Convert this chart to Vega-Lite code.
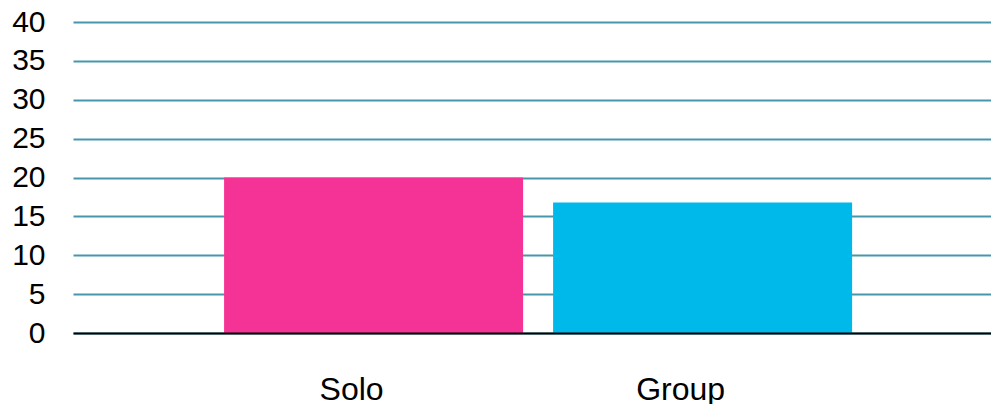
{
  "$schema": "https://vega.github.io/schema/vega-lite/v6.json",
  "autosize": {"type": "none"},
  "padding": {"left": 73, "top": 22, "right": 0, "bottom": 71},
  "width": 918,
  "height": 311,
  "background": "white",
  "config": {"view": {"stroke": null}, "font": "Liberation Sans"},
  "data": {"values": [
    {"category": "Solo", "value": 20},
    {"category": "Group", "value": 16.8}
  ]},
  "mark": {"type": "bar"},
  "encoding": {
    "x": {
      "field": "category", "type": "nominal", "sort": null,
      "scale": {"paddingInner": 0.0912, "paddingOuter": 0.4407, "align": 0.521},
      "axis": {
        "title": null, "labelAngle": 0, "ticks": false, "domainColor": "#000000", "domainWidth": 2,
        "labelFontSize": 32, "labelColor": "#000000", "labelPadding": 41, "labelOffset": -22, "zindex": 1
      }
    },
    "y": {
      "field": "value", "type": "quantitative",
      "scale": {"domain": [0, 40], "nice": false},
      "axis": {
        "title": null, "values": [0, 5, 10, 15, 20, 25, 30, 35, 40], "domain": false, "ticks": false,
        "grid": true, "gridColor": "#4797ab", "gridWidth": 2, "gridOpacity": 1,
        "labelFontSize": 30, "labelColor": "#000000", "labelPadding": 28
      }
    },
    "color": {
      "field": "category", "type": "nominal", "legend": null,
      "scale": {"domain": ["Solo", "Group"], "range": ["#f53396", "#00b9eb"]}
    }
  }
}
